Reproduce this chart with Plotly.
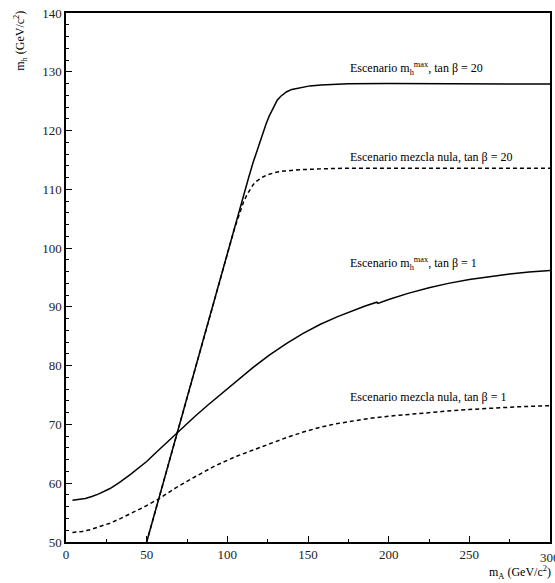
import plotly.graph_objects as go

# m_h^max, tan beta = 20 (solid)
mA_max20 = [50, 60, 75, 90, 100, 104, 107.4, 110, 113, 116, 119.2, 122, 124, 126, 127.5, 129, 131, 133, 135, 136.8, 140, 145, 151.2, 158, 165, 175, 200, 250, 300]
mh_max20 = [50, 59.8, 74.5, 89.4, 99.3, 103.1, 106.6, 109.2, 111.8, 114.6, 117.3, 119.6, 121.1, 122.5, 123.4, 124.3, 125.2, 125.8, 126.3, 126.6, 127.0, 127.3, 127.6, 127.75, 127.85, 127.95, 128.0, 128.0, 127.9]

# mezcla nula, tan beta = 20 (dashed)
mA_nm20 = [50, 60, 75, 90, 100, 102, 104, 106, 108, 110, 112, 114, 116, 118.2, 120, 122, 125, 127.5, 131, 135, 140, 145, 160, 175, 200, 250, 300]
mh_nm20 = [50, 59.8, 74.5, 89.4, 99.2, 101.1, 102.9, 104.6, 106.3, 107.8, 109.0, 110.0, 110.8, 111.4, 111.8, 112.1, 112.5, 112.7, 112.95, 113.1, 113.25, 113.35, 113.5, 113.6, 113.6, 113.6, 113.6]

# m_h^max, tan beta = 1 (solid)
mA_max1 = [4, 8, 12, 16, 20, 27.3, 33, 40, 45, 50, 55, 60, 67.6, 75, 80, 88, 95.5, 105, 116, 126, 136.8, 147, 157.4, 168, 178, 185, 192.6, 193.3, 200, 212, 225, 237, 250, 262, 275, 287, 300]
mh_max1 = [57.1, 57.2, 57.4, 57.75, 58.15, 59.1, 60.1, 61.5, 62.6, 63.7, 65.0, 66.3, 68.3, 70.2, 71.4, 73.3, 75.0, 77.2, 79.7, 81.8, 83.8, 85.5, 87.0, 88.3, 89.4, 90.1, 90.8, 90.6, 91.25, 92.3, 93.25, 94.0, 94.65, 95.15, 95.6, 95.95, 96.2]

# mezcla nula, tan beta = 1 (dashed)
mA_nm1 = [4, 10, 15, 21, 27.3, 33, 40, 48, 57.2, 68, 80, 92, 105.8, 118.2, 128, 137, 147, 157.4, 167, 175, 183, 188.4, 200, 217.4, 233, 250, 265, 280, 300]
mh_nm1 = [51.6, 51.8, 52.1, 52.6, 53.2, 53.9, 54.8, 55.9, 57.3, 59.2, 61.1, 62.9, 64.6, 65.9, 66.9, 67.8, 68.7, 69.5, 70.1, 70.5, 70.85, 71.05, 71.4, 71.85, 72.2, 72.55, 72.8, 73.0, 73.2]

labels = [
    ("Escenario m<sub>h</sub><sup>max</sup>, tan β = 20", 174.8, 130.6),
    ("Escenario mezcla nula, tan β = 20", 174.8, 115.5),
    ("Escenario m<sub>h</sub><sup>max</sup>, tan β = 1", 174.8, 97.3),
    ("Escenario mezcla nula, tan β = 1", 174.8, 74.7),
]
xtick_vals = [0, 50, 100, 150, 200, 250, 300]

FONT = "Liberation Serif, Times New Roman, Times, serif"

fig = go.Figure()
line_solid = dict(color="black", width=1.5)
line_dash = dict(color="black", width=1.5, dash="4px,3px")
fig.add_trace(go.Scatter(x=mA_max20, y=mh_max20, mode="lines", line=line_solid))
fig.add_trace(go.Scatter(x=mA_nm20, y=mh_nm20, mode="lines", line=line_dash))
fig.add_trace(go.Scatter(x=mA_max1, y=mh_max1, mode="lines", line=line_solid))
fig.add_trace(go.Scatter(x=mA_nm1, y=mh_nm1, mode="lines", line=line_dash))

for txt, x, y in labels:
    fig.add_annotation(x=x, y=y, text=txt, showarrow=False, xanchor="left", yanchor="middle",
                       font=dict(family=FONT, size=12, color="black"))

# last x tick label sits on the right edge (partly clipped in the original)
fig.add_annotation(x=xtick_vals[-1], xref="x", yref="paper", y=-0.012, text=str(xtick_vals[-1]),
                   showarrow=False, xanchor="center", yanchor="top",
                   font=dict(family=FONT, size=13, color="#222"))

fig.add_annotation(xref="paper", yref="paper", x=1.007, y=-0.058, text="m<sub>A</sub> (GeV/c<sup>2</sup>)",
                   showarrow=False, xanchor="right", yanchor="middle",
                   font=dict(family=FONT, size=12, color="black"))
fig.add_annotation(xref="paper", yref="paper", x=-0.093, y=1.008, text="m<sub>h</sub> (GeV/c<sup>2</sup>)",
                   showarrow=False, xanchor="center", yanchor="top", textangle=-90,
                   font=dict(family=FONT, size=12, color="black"))

fig.update_layout(
    width=555, height=583,
    margin=dict(l=66, r=5, t=13, b=41),
    paper_bgcolor="white", plot_bgcolor="white",
    showlegend=False,
    font=dict(family=FONT, size=13, color="black"),
    xaxis=dict(range=[0, 300], tickmode="array", tickvals=xtick_vals,
               ticktext=[str(v) for v in xtick_vals[:-1]] + [""],
               automargin=False,
               ticks="inside", ticklen=6, tickwidth=1,
               tickcolor="black", showline=True, linecolor="black", linewidth=1.5, mirror=True,
               showgrid=False, zeroline=False,
               minor=dict(dtick=25, tick0=0, ticks="inside", ticklen=3, tickcolor="black", showgrid=False),
               tickfont=dict(family=FONT, size=13, color="#222")),
    yaxis=dict(range=[50, 140], dtick=10, tick0=50, ticks="inside", ticklen=6, tickwidth=1,
               automargin=False,
               tickcolor="black", showline=True, linecolor="black", linewidth=1.5, mirror=True,
               showgrid=False, zeroline=False,
               minor=dict(dtick=2, ticks="inside", ticklen=3, tickcolor="black", showgrid=False),
               tickfont=dict(family=FONT, size=13, color="#222")),
)

fig.write_html("out.html")
